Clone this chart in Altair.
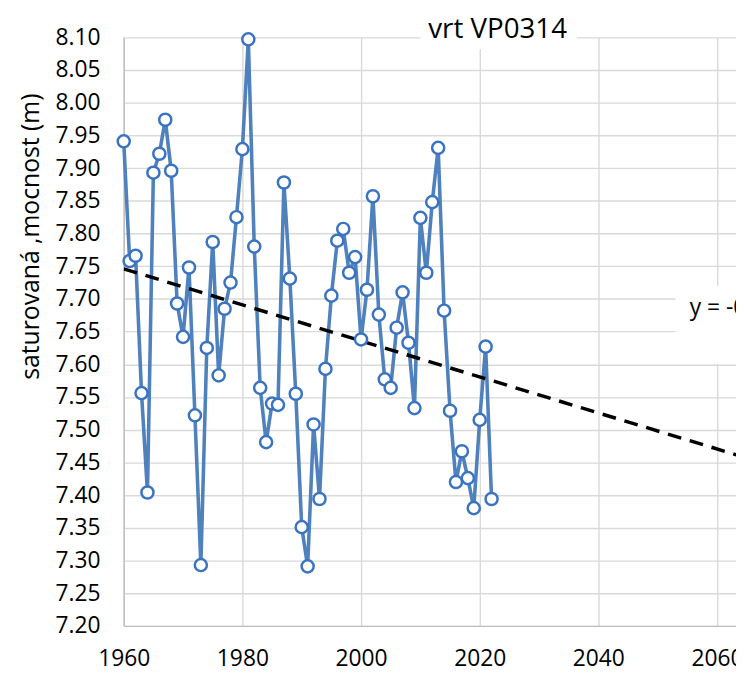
import altair as alt
import pandas as pd

years = list(range(1960, 2023))
values = [7.941, 7.758, 7.766, 7.556, 7.404, 7.893, 7.922, 7.974, 7.896, 7.693,
          7.642, 7.748, 7.522, 7.293, 7.625, 7.787, 7.583, 7.685, 7.725, 7.825,
          7.929, 8.097, 7.780, 7.564, 7.481, 7.540, 7.538, 7.878, 7.731, 7.555,
          7.351, 7.291, 7.508, 7.394, 7.593, 7.705, 7.789, 7.807, 7.740, 7.764,
          7.638, 7.714, 7.857, 7.676, 7.577, 7.564, 7.656, 7.710, 7.633, 7.533,
          7.824, 7.740, 7.848, 7.931, 7.682, 7.529, 7.420, 7.467, 7.426, 7.380,
          7.515, 7.627, 7.394]

trend_years = [1960, 2070]
trend_values = [7.746, 7.443]

x_ticks = [1960, 1980, 2000, 2020, 2040, 2060]
y_ticks = [7.20, 7.25, 7.30, 7.35, 7.40, 7.45, 7.50, 7.55, 7.60, 7.65,
           7.70, 7.75, 7.80, 7.85, 7.90, 7.95, 8.00, 8.05, 8.10]

chart_title = "vrt VP0314"
y_title = "saturovaná ,mocnost (m)"
equation = "y = -0.0028x + 13.146"
eq_box_x = [2053, 2080]
eq_box_y = [7.601, 7.720]
eq_pos = [2055.4, 7.675]

FONT = "Open Sans"
LINE_COLOR = "#4f81bd"
MARK_COLOR = "#3a73c2"

df = pd.DataFrame({"year": years, "value": values})
trend_df = pd.DataFrame({"year": trend_years, "value": trend_values})
box_df = pd.DataFrame({"x": [eq_box_x[0]], "x2": [eq_box_x[1]],
                       "y": [eq_box_y[0]], "y2": [eq_box_y[1]]})
eq_df = pd.DataFrame({"x": [eq_pos[0]], "y": [eq_pos[1]], "t": [equation]})

x_scale = alt.Scale(domain=[1960, 2063.2], nice=False, zero=False)
y_scale = alt.Scale(domain=[7.2, 8.1], nice=False, zero=False)

x_axis = alt.Axis(values=x_ticks, format="d", title=None, ticks=False,
                  tickCount=50, labelPadding=22, labelFlush=False,
                  labelOverlap=False, labelBound=False)
y_axis = alt.Axis(values=y_ticks, format=".2f", title=y_title, ticks=False,
                  tickCount=100, labelPadding=24, labelFlush=False,
                  labelOverlap=False,
                  titleAngle=270, titleX=-86, titleY=201, titleAlign="center",
                  titleBaseline="alphabetic", titleFontSize=25,
                  titleFont=FONT, titleFontWeight="normal", titleColor="#000000")

base_line = alt.Chart(df).mark_line(color=LINE_COLOR, strokeWidth=3.6).encode(
    x=alt.X("year:Q", scale=x_scale, axis=x_axis),
    y=alt.Y("value:Q", scale=y_scale, axis=y_axis),
)

trend = alt.Chart(trend_df).mark_line(color="black", strokeWidth=3.5,
                                      strokeDash=[14, 9], clip=True).encode(
    x=alt.X("year:Q", scale=x_scale),
    y=alt.Y("value:Q", scale=y_scale),
)

points = alt.Chart(df).mark_point(shape="circle", filled=True, fill="white",
                                  stroke=MARK_COLOR, strokeWidth=2.5, size=150,
                                  opacity=1, fillOpacity=1).encode(
    x=alt.X("year:Q", scale=x_scale),
    y=alt.Y("value:Q", scale=y_scale),
)

eq_box = alt.Chart(box_df).mark_rect(color="white", opacity=1).encode(
    x=alt.X("x:Q", scale=x_scale), x2="x2:Q",
    y=alt.Y("y:Q", scale=y_scale), y2="y2:Q",
)

eq_text = alt.Chart(eq_df).mark_text(font=FONT, fontSize=23, align="left",
                                     baseline="alphabetic", color="#000000").encode(
    x=alt.X("x:Q", scale=x_scale),
    y=alt.Y("y:Q", scale=y_scale),
    text="t:N",
)

title_box = alt.Chart(df).mark_rect(color="white", opacity=1).encode(
    x=alt.value(300), x2=alt.value(458), y=alt.value(-30), y2=alt.value(12)
).transform_filter(alt.datum.year == 1960)

title_text = alt.Chart(df).mark_text(text=chart_title, font=FONT, fontSize=28,
                                     align="center", baseline="alphabetic",
                                     color="#000000").encode(
    x=alt.value(378), y=alt.value(1)
).transform_filter(alt.datum.year == 1960)

chart = alt.layer(base_line, trend, points, eq_box, eq_text, title_box, title_text).properties(
    width=619, height=595,
    autosize=alt.AutoSizeParams(type="none"),
    padding={"left": 117, "top": 26, "right": 0, "bottom": 46},
    background="white",
).configure_view(stroke=None).configure_axis(
    labelFont=FONT, labelFontSize=23, labelColor="#000000",
    gridColor="#d9d9d9", gridWidth=1.4,
    domainColor="#bfbfbf", domainWidth=1.5,
)

chart.save("out.html", embed_options={"renderer": "svg", "actions": False})
